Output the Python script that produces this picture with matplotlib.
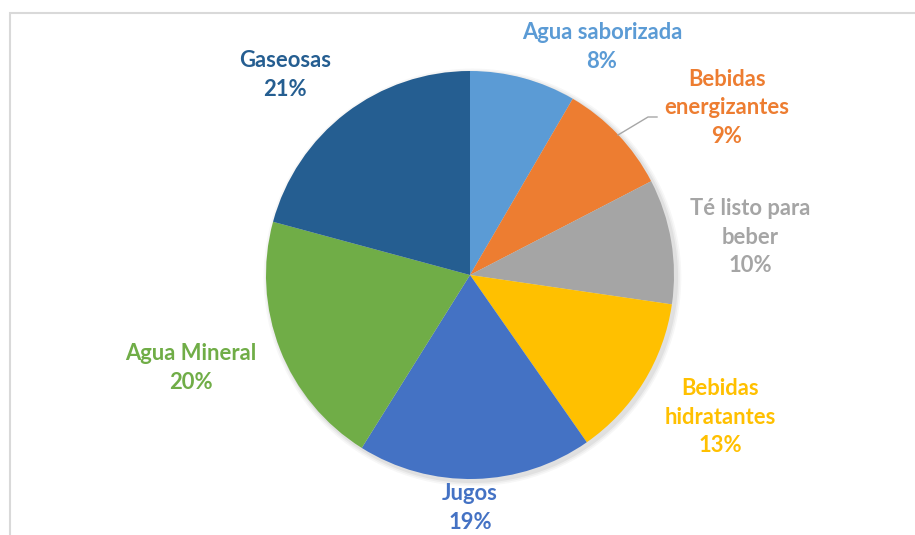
import matplotlib
matplotlib.use('agg')
import matplotlib.pyplot as plt
from matplotlib.patches import Rectangle

# share of each beverage category (%), clockwise from 12 o'clock
categories = ['Agua saborizada', 'Bebidas\nenergizantes', 'Té listo para\nbeber',
              'Bebidas\nhidratantes', 'Jugos', 'Agua Mineral', 'Gaseosas']
shares = [8.4, 9.0, 9.9, 13.0, 18.6, 20.3, 20.8]
colors = ['#5B9BD5', '#ED7D31', '#A5A5A5', '#FFC000', '#4472C4', '#70AD47', '#255E91']

# label centres in pixels (x, y from top)
label_px = [(602, 47), (727, 108), (750, 237), (720, 417), (470, 508), (191, 368), (285, 75)]

W, H = 915, 535
cx, cy, R = 470, 275, 204

fig = plt.figure(figsize=(W / 100, H / 100), dpi=100)
ax = fig.add_axes([0, 0, 1, 1])

# chart area border (cropped on the right and bottom)
fig.patches.append(Rectangle((10 / W, -0.1), 1.2, 1 - 13 / H + 0.1, transform=fig.transFigure,
                             fill=False, edgecolor='#d9d9d9', linewidth=1.5))

# soft shadow
for i, a in enumerate([0.05, 0.04, 0.03]):
    sh = plt.Circle((0.012, -0.012), 1 + 0.008 * (i + 1), color='black', alpha=a, lw=0)
    ax.add_patch(sh)

ax.pie(shares, colors=colors, startangle=90, counterclock=False, radius=1,
       wedgeprops=dict(linewidth=0))
ax.set_xlim(-cx / R, (W - cx) / R)
ax.set_ylim(-(H - cy) / R, cy / R)
ax.set_aspect('equal')
ax.axis('off')

for lab, val, col, (px, py) in zip(categories, shares, colors, label_px):
    ax.text((px - cx) / R, (cy - py) / R, '%s\n%.0f%%' % (lab, val), color=col,
            ha='center', va='center', fontsize=15.8, fontweight='bold', linespacing=1.42,
            family=['Lato', 'DejaVu Sans'])

# leader line for "Bebidas energizantes"
lx = [(618 - cx) / R, (648 - cx) / R, (657 - cx) / R]
ly = [(cy - 135) / R, (cy - 117) / R, (cy - 117) / R]
ax.plot(lx, ly, color='#a6a6a6', linewidth=1)

plt.savefig('out.png', dpi=100)
